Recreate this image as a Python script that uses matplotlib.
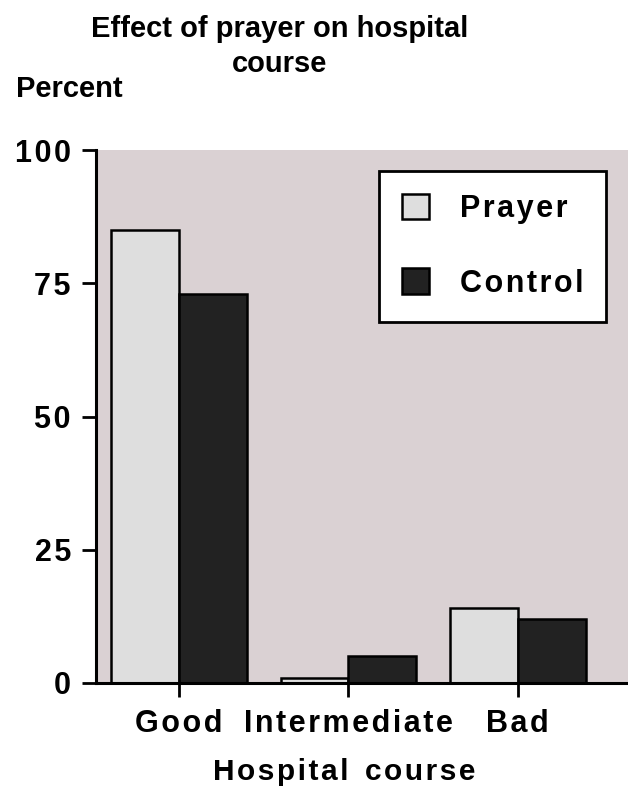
import numpy as np
import matplotlib
matplotlib.use('Agg')
import matplotlib.pyplot as plt

categories = ['Good', 'Intermediate', 'Bad']
prayer = [85, 1, 14]
control = [73, 5, 12]
yticks = [0, 25, 50, 75, 100]

plt.rcParams['font.family'] = ['Liberation Sans', 'DejaVu Sans']
plt.rcParams['font.weight'] = 'bold'

W, H = 628, 787
fig = plt.figure(figsize=(W / 100, H / 100), dpi=100)


def sp(s):
    # spread letters a bit, like the original
    return '\u200a'.join(s)


def px(x, y):
    return x / W, 1 - y / H


ax = fig.add_axes([96 / W, 104 / H, 532 / W, 533 / H])
ax.set_facecolor('#dad1d3')

x = np.arange(len(categories))
w = 0.4
ax.bar(x - w / 2, prayer, w, color='#dedede', edgecolor='black', linewidth=1.8, label=sp('Prayer'))
ax.bar(x + w / 2, control, w, color='#222222', edgecolor='black', linewidth=1.8, label=sp('Control'))

ax.set_xlim(-0.49, 2.65)
ax.set_ylim(0, 100)
ax.set_yticks(yticks)
ax.set_yticklabels([sp(str(v)) for v in yticks], fontsize=22, fontweight='bold')
ax.set_xticks(x)
ax.set_xticklabels([sp(c) for c in categories], fontsize=22, fontweight='bold')
ax.tick_params(axis='both', length=10, width=2, color='black', pad=9)
ax.tick_params(axis='y', pad=8)

for s in ['top', 'right']:
    ax.spines[s].set_visible(False)
for s in ['left', 'bottom']:
    ax.spines[s].set_linewidth(2.2)

leg = ax.legend(loc='upper left', bbox_to_anchor=px(379, 171), bbox_transform=fig.transFigure,
                fontsize=22, frameon=True, fancybox=False, framealpha=1, edgecolor='black',
                handlelength=0.9, handleheight=0.9, handletextpad=1.0, labelspacing=1.45,
                borderpad=0.75, borderaxespad=0)
leg.get_frame().set_linewidth(2)
for t in leg.get_texts():
    t.set_fontweight('bold')

fig.text(*px(280, 37), 'Effect of prayer on hospital', ha='center', va='baseline',
         fontsize=21, fontweight='bold')
fig.text(*px(280, 72), 'course', ha='center', va='baseline', fontsize=21, fontweight='bold')
fig.text(*px(16, 97), 'Percent', ha='left', va='baseline', fontsize=21, fontweight='bold')
fig.text(*px(344, 780), sp('Hospital') + '  ' + sp('course'), ha='center', va='baseline',
         fontsize=21.5, fontweight='bold')

fig.savefig('out.png', dpi=100)
